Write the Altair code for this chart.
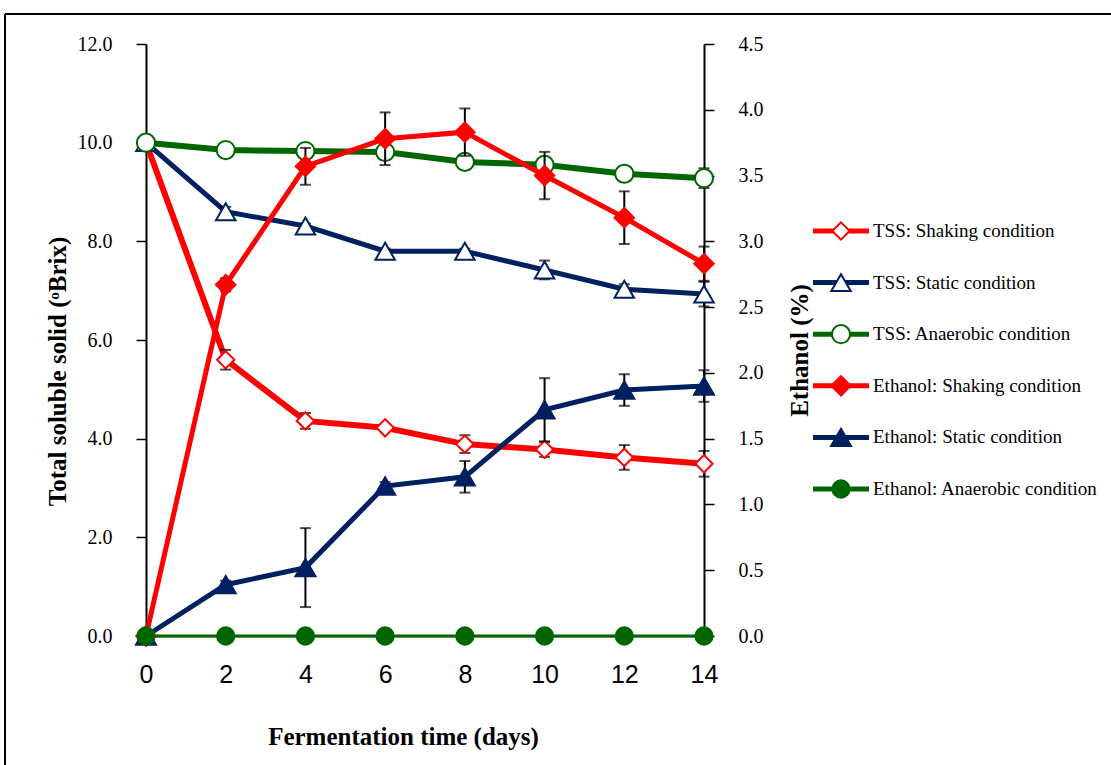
import altair as alt
import pandas as pd

# Sampling days
days = [0, 2, 4, 6, 8, 10, 12, 14]

# Total soluble solids (°Brix), mean and SD
tss_shaking = [10.0, 5.60, 4.36, 4.22, 3.89, 3.78, 3.62, 3.49]
tss_shaking_sd = [0.0, 0.20, 0.16, 0.05, 0.18, 0.15, 0.25, 0.26]
tss_static = [10.0, 8.60, 8.31, 7.80, 7.80, 7.42, 7.03, 6.93]
tss_static_sd = [0.0, 0.10, 0.05, 0.05, 0.05, 0.19, 0.10, 0.25]
tss_anaerobic = [10.0, 9.85, 9.83, 9.81, 9.61, 9.55, 9.37, 9.28]
tss_anaerobic_sd = [0.0, 0.05, 0.05, 0.05, 0.05, 0.05, 0.05, 0.20]

# Ethanol (%), mean and SD
eth_shaking = [0.0, 2.67, 3.57, 3.78, 3.83, 3.50, 3.18, 2.83]
eth_shaking_sd = [0.0, 0.05, 0.14, 0.20, 0.18, 0.18, 0.20, 0.13]
eth_static = [0.0, 0.39, 0.52, 1.14, 1.21, 1.72, 1.87, 1.90]
eth_static_sd = [0.0, 0.03, 0.30, 0.03, 0.12, 0.24, 0.12, 0.12]
eth_anaerobic = [0.0, 0.0, 0.0, 0.0, 0.0, 0.0, 0.0, 0.0]
eth_anaerobic_sd = [0.0, 0.0, 0.0, 0.0, 0.0, 0.0, 0.0, 0.0]

# Series labels and styling
series_labels = [
    "TSS: Shaking condition",
    "TSS: Static condition",
    "TSS: Anaerobic condition",
    " Ethanol: Shaking condition",
    "Ethanol: Static condition",
    "Ethanol: Anaerobic condition",
]
RED, NAVY, GREEN = "#FF0000", "#002060", "#006600"
series_colors = [RED, NAVY, GREEN, RED, NAVY, GREEN]
series_shapes = ["diamond", "triangle-up", "circle", "diamond", "triangle-up", "circle"]
series_fills = ["white", "white", "white", RED, NAVY, GREEN]
series_sizes = [300, 380, 330, 380, 400, 300]
series_widths = [6, 5, 6, 5, 5, 3]

SERIF = "Liberation Serif"
SANS = "Liberation Sans"

values = [tss_shaking, tss_static, tss_anaerobic, eth_shaking, eth_static, eth_anaerobic]
errors = [tss_shaking_sd, tss_static_sd, tss_anaerobic_sd,
          eth_shaking_sd, eth_static_sd, eth_anaerobic_sd]

rows = []
for i, (vals, sds) in enumerate(zip(values, errors)):
    for d, v, s in zip(days, vals, sds):
        rows.append({
            "day": d, "value": v, "lo": v - s, "hi": v + s,
            "series": series_labels[i].strip(), "color": series_colors[i],
            "shape": series_shapes[i], "fill": series_fills[i],
            "size": series_sizes[i], "lw": series_widths[i],
            "group": "tss" if i < 3 else "eth",
        })
df = pd.DataFrame(rows)

x_enc = alt.X(
    "day:Q",
    scale=alt.Scale(domain=[0, 14], nice=False),
    axis=alt.Axis(
        values=days, title="Fermentation time (days)", grid=False,
        labelFont=SANS, labelFontSize=25, labelColor="black", labelPadding=26,
        labelFlush=False, labelOverlap=False,
        ticks=False, domainColor="black", domainWidth=1.5,
        titleFont=SERIF, titleFontSize=25, titleFontWeight="bold", titleColor="black",
        titleX=257, titleY=108, titleBaseline="alphabetic",
    ),
)


def panel(group, domain, ticks, title, orient, title_x, title_y):
    data = df[df["group"] == group]
    axis = alt.Axis(
        orient=orient, values=ticks, format=".1f", grid=False, title=title,
        labelFont=SERIF, labelFontSize=20, labelColor="black", labelPadding=24,
        labelFlush=False, labelOverlap=False,
        tickSize=10, tickColor="black", tickWidth=1.5,
        domainColor="black", domainWidth=2,
        titleFont=SERIF, titleFontSize=25, titleFontWeight="bold", titleColor="black",
        titleAngle=270, titleAlign="center", titleBaseline="middle",
        titleX=title_x, titleY=title_y,
    )
    yscale = alt.Scale(domain=domain, nice=False, zero=False)
    base = alt.Chart(data)

    lines = base.mark_line().encode(
        x=x_enc,
        y=alt.Y("value:Q", scale=yscale, axis=axis),
        color=alt.Color("color:N", scale=None),
        strokeWidth=alt.StrokeWidth("lw:Q", scale=None),
        detail="series:N",
        order="day:Q",
    )
    bars = base.mark_rule(color="black", strokeWidth=2).encode(
        x=x_enc,
        y=alt.Y("lo:Q", scale=yscale, axis=axis),
        y2="hi:Q",
    )
    cap_lo = base.mark_tick(color="black", orient="horizontal", size=11, thickness=2).encode(
        x=x_enc, y=alt.Y("lo:Q", scale=yscale, axis=axis),
    )
    cap_hi = base.mark_tick(color="black", orient="horizontal", size=11, thickness=2).encode(
        x=x_enc, y=alt.Y("hi:Q", scale=yscale, axis=axis),
    )
    points = base.mark_point(filled=True, opacity=1, strokeWidth=2).encode(
        x=x_enc,
        y=alt.Y("value:Q", scale=yscale, axis=axis),
        shape=alt.Shape("shape:N", scale=None),
        fill=alt.Fill("fill:N", scale=None),
        stroke=alt.Stroke("color:N", scale=None),
        size=alt.Size("size:Q", scale=None),
    )
    return alt.layer(lines, bars, cap_lo, cap_hi, points)


tss_ticks = [0, 2, 4, 6, 8, 10, 12]
eth_ticks = [0, 0.5, 1.0, 1.5, 2.0, 2.5, 3.0, 3.5, 4.0, 4.5]

tss_panel = panel("tss", [0, 12], tss_ticks, "Total soluble solid (ᵒBrix)", "left", -89, 327)
eth_panel = panel("eth", [0, 4.5], eth_ticks, "Ethanol (%)", "right", 95, 306)

# Hand-drawn key to the right of the plot
legend_df = pd.DataFrame({
    "row": list(range(len(series_labels))),
    "label": series_labels,
    "color": series_colors,
    "shape": series_shapes,
    "fill": series_fills,
    "size": series_sizes,
})
row_y = alt.Y("row:Q", scale=alt.Scale(domain=[0, 5], range=[187, 445]), axis=None)
key_base = alt.Chart(legend_df)
key_lines = key_base.mark_rule(strokeWidth=5).encode(
    x=alt.value(667), x2=alt.value(723), y=row_y,
    color=alt.Color("color:N", scale=None),
)
key_points = key_base.mark_point(filled=True, opacity=1, strokeWidth=2).encode(
    x=alt.value(695), y=row_y,
    shape=alt.Shape("shape:N", scale=None),
    fill=alt.Fill("fill:N", scale=None),
    stroke=alt.Stroke("color:N", scale=None),
    size=alt.Size("size:Q", scale=None),
)
key_text = key_base.mark_text(
    align="left", baseline="middle", font=SERIF, fontSize=19, color="black",
).encode(x=alt.value(727), y=row_y, text="label:N")
key = alt.layer(key_lines, key_points, key_text)

# Figure frame
frame_df = pd.DataFrame({"k": [0]})
frame_left = alt.Chart(frame_df).mark_rule(color="black", strokeWidth=2).encode(
    x=alt.value(-141), y=alt.value(-30), y2=alt.value(725),
)
frame_top = alt.Chart(frame_df).mark_rule(color="black", strokeWidth=2).encode(
    x=alt.value(-141), x2=alt.value(970), y=alt.value(-30),
)

chart = (
    alt.layer(tss_panel, eth_panel, key, frame_left, frame_top)
    .resolve_scale(y="independent")
    .properties(
        width=558, height=592, autosize="none",
        padding={"left": 146, "top": 44, "right": 407, "bottom": 129},
        background="white",
    )
    .configure_view(stroke="transparent")
)

chart.save("out.html", embed_options={"renderer": "svg", "actions": False})
